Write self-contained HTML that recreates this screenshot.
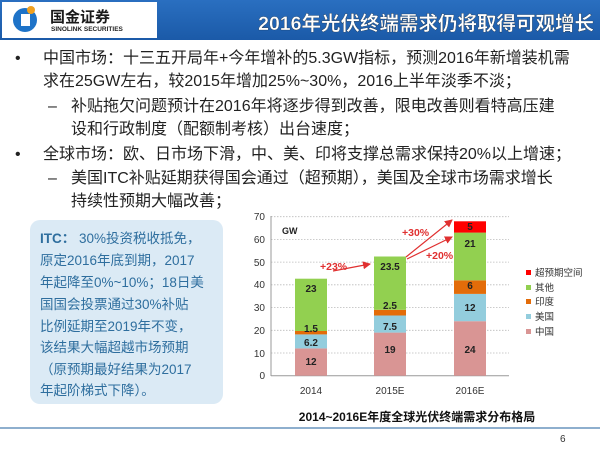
<!DOCTYPE html><html><head><meta charset="utf-8"><style>
body{margin:0;width:600px;height:450px;overflow:hidden;background:#fff;font-family:"Liberation Sans","Noto Sans CJK SC",sans-serif}
</style></head><body>
<svg width="600" height="450" xmlns="http://www.w3.org/2000/svg" font-family="Liberation Sans, Noto Sans CJK SC, sans-serif">
<defs><linearGradient id="hb" x1="0" y1="0" x2="0" y2="1"><stop offset="0" stop-color="#2a6fc0"/><stop offset="1" stop-color="#1b5aa8"/></linearGradient>
<marker id="ar" markerWidth="8" markerHeight="8" refX="7" refY="4" orient="auto" markerUnits="userSpaceOnUse"><path d="M0,0 L8,4 L0,8 z" fill="#e03030"/></marker></defs>
<rect x="0" y="0" width="600" height="40" fill="url(#hb)"/>
<rect x="2" y="2" width="155" height="36" fill="#fff"/>
<circle cx="25" cy="20" r="12" fill="#1e73c8"/>
<rect x="21" y="14" width="9" height="12" fill="#fff"/>
<circle cx="31" cy="10" r="4" fill="#f0a020"/>
<text x="50" y="22" font-size="15" font-weight="bold" fill="#1a1a1a">国金证券</text>
<text x="51" y="31" font-size="6.5" font-weight="bold" fill="#222">SINOLINK SECURITIES</text>
<text x="594" y="30" font-size="19.5" font-weight="bold" fill="#fff" text-anchor="end" stroke="#123" stroke-width="0.3">2016年光伏终端需求仍将取得可观增长</text>
<g font-size="16" fill="#222">
<text x="15" y="63">•</text>
<text x="43" y="63">中国市场：十三五开局年+今年增补的5.3GW指标，预测2016年新增装机需</text>
<text x="43" y="86">求在25GW左右，较2015年增加25%~30%，2016上半年淡季不淡；</text>
<text x="48" y="111">–</text>
<text x="71" y="111">补贴拖欠问题预计在2016年将逐步得到改善，限电改善则看特高压建</text>
<text x="71" y="134">设和行政制度（配额制考核）出台速度；</text>
<text x="15" y="159">•</text>
<text x="43" y="159">全球市场：欧、日市场下滑，中、美、印将支撑总需求保持20%以上增速；</text>
<text x="48" y="183">–</text>
<text x="71" y="183">美国ITC补贴延期获得国会通过（超预期），美国及全球市场需求增长</text>
<text x="71" y="206">持续性预期大幅改善；</text>
</g>
<rect x="30" y="220" width="193" height="184" rx="10" fill="#dbeaf5"/>
<g font-size="13.5" fill="#2e6e9e">
<text x="40" y="243"><tspan font-weight="bold">ITC：</tspan> 30%投资税收抵免，</text>
<text x="40" y="265">原定2016年底到期，2017</text>
<text x="40" y="287">年起降至0%~10%；18日美</text>
<text x="40" y="309">国国会投票通过30%补贴</text>
<text x="40" y="331">比例延期至2019年不变，</text>
<text x="40" y="352">该结果大幅超越市场预期</text>
<text x="40" y="374">（原预期最好结果为2017</text>
<text x="40" y="395">年起阶梯式下降）。</text>
</g>
<g stroke="#bbb" stroke-dasharray="1.5,1.5" stroke-width="0.8">
<line x1="271" y1="216.7" x2="509" y2="216.7"/><line x1="271" y1="239.4" x2="509" y2="239.4"/><line x1="271" y1="262.1" x2="509" y2="262.1"/><line x1="271" y1="284.8" x2="509" y2="284.8"/><line x1="271" y1="307.5" x2="509" y2="307.5"/><line x1="271" y1="330.3" x2="509" y2="330.3"/><line x1="271" y1="353" x2="509" y2="353"/>
</g>
<line x1="271" y1="216" x2="271" y2="376" stroke="#999"/>
<line x1="271" y1="375.7" x2="509" y2="375.7" stroke="#999"/>
<g font-size="10" fill="#333" text-anchor="end">
<text x="265" y="220">70</text><text x="265" y="243">60</text><text x="265" y="266">50</text><text x="265" y="288">40</text><text x="265" y="311">30</text><text x="265" y="334">20</text><text x="265" y="357">10</text><text x="265" y="379">0</text>
</g>
<text x="282" y="234" font-size="9" font-weight="bold" fill="#222">GW</text>
<rect x="295" y="348.4" width="32" height="27.3" fill="#d99594"/>
<rect x="295" y="334.4" width="32" height="14" fill="#93cddd"/>
<rect x="295" y="331" width="32" height="3.4" fill="#e36c09"/>
<rect x="295" y="278.7" width="32" height="52.3" fill="#92d050"/>
<rect x="374" y="332.6" width="32" height="43.1" fill="#d99594"/>
<rect x="374" y="315.5" width="32" height="17.1" fill="#93cddd"/>
<rect x="374" y="309.8" width="32" height="5.7" fill="#e36c09"/>
<rect x="374" y="256.5" width="32" height="53.3" fill="#92d050"/>
<rect x="454" y="321.2" width="32" height="54.5" fill="#d99594"/>
<rect x="454" y="293.9" width="32" height="27.3" fill="#93cddd"/>
<rect x="454" y="280.3" width="32" height="13.6" fill="#e36c09"/>
<rect x="454" y="232.6" width="32" height="47.7" fill="#92d050"/>
<rect x="454" y="221.3" width="32" height="11.3" fill="#ff0000"/>
<g font-size="10" font-weight="bold" fill="#222" text-anchor="middle">
<text x="311" y="365">12</text><text x="311" y="346">6.2</text><text x="311" y="332">1.5</text><text x="311" y="292">23</text>
<text x="390" y="353">19</text><text x="390" y="330">7.5</text><text x="390" y="309">2.5</text><text x="390" y="270">23.5</text>
<text x="470" y="353">24</text><text x="470" y="311">12</text><text x="470" y="289">6</text><text x="470" y="247">21</text><text x="470" y="230">5</text>
</g>
<g font-size="10" fill="#333" text-anchor="middle"><text x="311" y="394">2014</text><text x="390" y="394">2015E</text><text x="470" y="394">2016E</text></g>
<g stroke="#e03030" stroke-width="1.2" fill="none" marker-end="url(#ar)">
<line x1="333" y1="271" x2="370" y2="264"/>
<line x1="406" y1="257" x2="452" y2="220"/>
<line x1="407" y1="259" x2="452" y2="237"/>
</g>
<g font-size="10.5" font-weight="bold" fill="#e03030">
<text x="320" y="270">+23%</text><text x="402" y="236">+30%</text><text x="426" y="259">+20%</text>
</g>
<g font-size="9.5" fill="#333">
<rect x="526" y="270" width="5" height="5" fill="#ff0000"/><text x="535" y="276">超预期空间</text>
<rect x="526" y="285" width="5" height="5" fill="#92d050"/><text x="535" y="291">其他</text>
<rect x="526" y="299" width="5" height="5" fill="#e36c09"/><text x="535" y="305">印度</text>
<rect x="526" y="314" width="5" height="5" fill="#93cddd"/><text x="535" y="320">美国</text>
<rect x="526" y="329" width="5" height="5" fill="#d99594"/><text x="535" y="335">中国</text>
</g>
<text x="417" y="421" font-size="12" font-weight="bold" fill="#111" text-anchor="middle">2014~2016E年度全球光伏终端需求分布格局</text>
<line x1="0" y1="428" x2="600" y2="428" stroke="#4a7fb0" stroke-width="1.2"/>
<text x="560" y="442" font-size="10" fill="#333">6</text>
</svg>
</body></html>
